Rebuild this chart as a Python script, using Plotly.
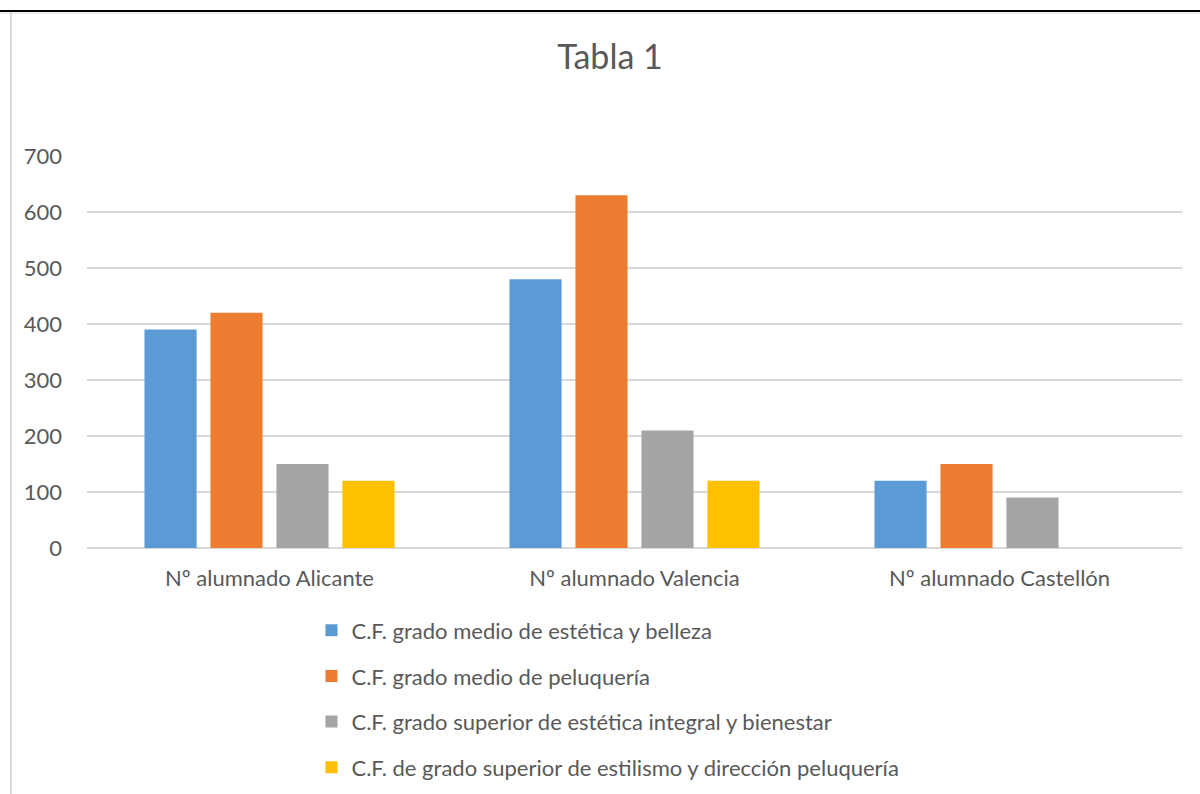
import plotly.graph_objects as go

categories = ["Nº alumnado Alicante", "Nº alumnado Valencia", "Nº alumnado Castellón"]
series_names = [
    "C.F. grado medio de estética y belleza",
    "C.F. grado medio de peluquería",
    "C.F. grado superior de estética integral y bienestar",
    "C.F. de grado superior de estilismo y dirección peluquería",
]
estetica_belleza = [390, 480, 120]
peluqueria = [420, 630, 150]
estetica_integral = [150, 210, 90]
estilismo = [120, 120, None]
colors = ["#5B9BD5", "#ED7D31", "#A5A5A5", "#FFC000"]
y_ticks = [0, 100, 200, 300, 400, 500, 600, 700]

FONT = "Lato, 'Open Sans', sans-serif"
TXT = "#595959"

fig = go.Figure()
for i, (name, vals) in enumerate(zip(series_names, [estetica_belleza, peluqueria, estetica_integral, estilismo])):
    fig.add_trace(go.Bar(
        x=categories, y=vals, name=name,
        marker=dict(color=colors[i], line=dict(width=0)),
        legendgroup=f"g{i}",
    ))

fig.update_layout(
    width=1200, height=794,
    paper_bgcolor="white", plot_bgcolor="white",
    margin=dict(l=87, r=18, t=156, b=246, autoexpand=False),
    barmode="group", bargap=0.277, bargroupgap=0.21,
    font=dict(family=FONT, color=TXT, size=22),
    title=dict(text="Tabla 1", x=610 / 1200, xref="container", xanchor="center",
               y=1 - 57 / 794, yref="container", yanchor="middle",
               font=dict(size=34, color=TXT, family=FONT)),
    showlegend=True,
    legend=dict(orientation="v", x=0.205, xanchor="left", y=-0.157, yanchor="top",
                font=dict(size=22, color=TXT, family=FONT),
                tracegroupgap=14, traceorder="grouped", itemwidth=30,
                bgcolor="rgba(0,0,0,0)"),
    xaxis=dict(showgrid=False, showline=False, ticks="",
               tickfont=dict(size=22, color=TXT, family=FONT), ticklabelstandoff=15),
    yaxis=dict(range=[0, 700], tickvals=y_ticks, showgrid=True, gridcolor="#D9D9D9",
               gridwidth=1.5, zeroline=True, zerolinecolor="#D9D9D9", zerolinewidth=1.5,
               showline=False, ticks="", ticklabelstandoff=24,
               tickfont=dict(size=22, color=TXT, family=FONT)),
)

# Page borders (document frame lines)
shapes = [
    dict(type="line", xref="paper", yref="paper", x0=-87/1095, x1=(1200-87)/1095,
         y0=(548.5-11.5)/392, y1=(548.5-11.5)/392, line=dict(color="black", width=2)),
    dict(type="line", xref="paper", yref="paper", x0=-87/1095, x1=(1200-87)/1095,
         y0=(548.5-13.5)/392, y1=(548.5-13.5)/392, line=dict(color="#E6E6E6", width=1.5)),
    dict(type="line", xref="paper", yref="paper", x0=(11-87)/1095, x1=(11-87)/1095,
         y0=(548.5-12.5)/392, y1=(548.5-800)/392, line=dict(color="#D9D9D9", width=2)),
]
fig.update_layout(shapes=shapes)

fig.write_html("out.html", config={"displayModeBar": False},
               post_script="document.body.style.margin='0px';")
